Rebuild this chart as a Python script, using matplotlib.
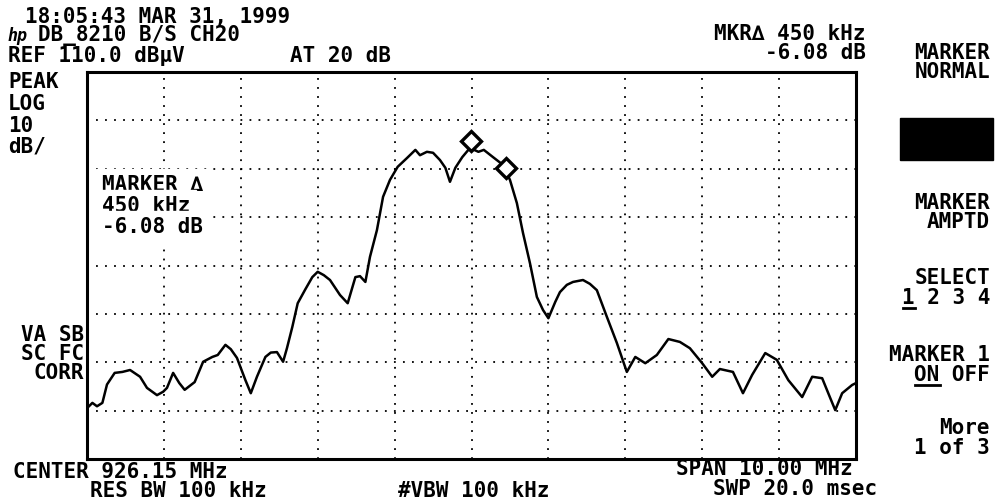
import matplotlib
matplotlib.use("Agg")
import matplotlib.pyplot as plt
from matplotlib.lines import Line2D
from matplotlib.patches import Rectangle

# analyzer settings
center_mhz = 926.15
span_mhz = 10.0
ref_level = 110.0
db_per_div = 10.0

# trace (MHz, dBuV)
freq = [921.15, 921.22, 921.28, 921.35, 921.41, 921.51, 921.61, 921.71, 921.84, 921.93,
        922.06, 922.14, 922.19, 922.27, 922.35, 922.42, 922.55, 922.66, 922.78, 922.85,
        922.95, 923.02, 923.10, 923.21, 923.28, 923.36, 923.47, 923.54, 923.62, 923.70,
        923.75, 923.82, 923.89, 923.99, 924.08, 924.15, 924.23, 924.31, 924.44, 924.54,
        924.64, 924.70, 924.77, 924.83, 924.92, 925.00, 925.09, 925.19, 925.31, 925.42,
        925.48, 925.57, 925.65, 925.74, 925.81, 925.87, 925.94, 926.03, 926.13, 926.24,
        926.31, 926.43, 926.56, 926.65, 926.74, 926.82, 926.91, 927.00, 927.08, 927.15,
        927.24, 927.30, 927.39, 927.47, 927.60, 927.69, 927.78, 927.91, 928.04, 928.17,
        928.28, 928.41, 928.56, 928.71, 928.86, 928.99, 929.15, 929.28, 929.38, 929.55,
        929.68, 929.80, 929.97, 930.12, 930.27, 930.45, 930.58, 930.71, 930.81, 930.88,
        930.97, 931.10, 931.15]
level = [40.5, 41.6, 40.9, 41.6, 45.4, 47.8, 48.0, 48.4, 47.0, 44.7,
         43.2, 43.9, 44.7, 47.8, 45.7, 44.3, 45.9, 50.1, 51.1, 51.5,
         53.6, 52.7, 50.9, 46.3, 43.6, 47.0, 51.1, 52.0, 52.1, 50.1,
         52.9, 57.3, 62.2, 65.1, 67.6, 68.7, 68.0, 67.0, 63.9, 62.2,
         67.6, 67.8, 66.6, 71.8, 77.3, 84.2, 87.7, 90.4, 92.2, 93.9,
         92.8, 93.5, 93.3, 91.8, 90.2, 87.3, 90.2, 92.4, 94.3, 93.5,
         93.9, 92.4, 90.8, 87.7, 82.9, 76.7, 70.5, 63.5, 60.8, 59.1,
         62.5, 64.5, 66.0, 66.6, 67.0, 66.2, 64.9, 59.4, 54.0, 48.0,
         51.1, 49.8, 51.5, 54.8, 54.2, 52.9, 49.8, 47.0, 48.6, 48.0,
         43.6, 47.4, 51.9, 50.5, 46.3, 42.8, 47.0, 46.7, 42.8, 40.1,
         43.6, 45.3, 45.7]

# marker and delta marker
marker_freq = [926.14, 926.60]
marker_level = [95.7, 90.2]

W, H = 998, 500
FONT = ['DejaVu Sans Mono', 'DejaVu Sans']
FS = 15

fig = plt.figure(figsize=(W / 100, H / 100), dpi=100)
fig.patch.set_facecolor('white')
ax = fig.add_axes([87 / W, 1 - 459 / H, (856 - 87) / W, (459 - 72) / H])

start = center_mhz - span_mhz / 2
stop = center_mhz + span_mhz / 2
bottom = ref_level - 8 * db_per_div
ax.set_xlim(start, stop)
ax.set_ylim(bottom, ref_level)
ax.set_xticks([start + i * span_mhz / 10 for i in range(11)])
ax.set_yticks([bottom + i * db_per_div for i in range(9)])
ax.tick_params(length=0, labelbottom=False, labelleft=False)
ax.grid(True, color='black', linestyle=(0, (1, 4)), linewidth=1.3)
for s in ax.spines.values():
    s.set_linewidth(2.2)
    s.set_color('black')

ax.plot(freq, level, color='black', linewidth=1.8)
ax.plot(marker_freq, marker_level, linestyle='none', marker='D', markersize=10,
        markerfacecolor='white', markeredgecolor='black', markeredgewidth=2.4)


def put(x, y, s, ha='left', **kw):
    fig.text(x / W, 1 - y / H, s, family=FONT, fontsize=FS, fontweight='bold',
             ha=ha, va='center', color='black', **kw)


# marker readout inside graticule
for txt, yy in [('MARKER \u2206', 185), ('450 kHz', 206), ('-6.08 dB', 227)]:
    put(102, yy, txt, backgroundcolor='white')

# header
put(25, 17, '18:05:43 MAR 31, 1999')
fig.text(8 / W, 1 - 36 / H, 'hp', family=FONT, fontsize=12, fontweight='bold',
         style='italic', ha='left', va='center')
put(38, 36, 'DB_8210 B/S CH20')
put(8, 56, 'REF 110.0 dB\u03bcV')
put(290, 56, 'AT 20 dB')
put(866, 34, 'MKR\u2206 450 kHz', ha='right')
put(866, 53, '-6.08 dB', ha='right')

# left annotations
put(8, 82, 'PEAK')
put(8, 104, 'LOG')
put(8, 126, '10')
put(8, 146, 'dB/')
put(84, 335, 'VA SB', ha='right')
put(84, 354, 'SC FC', ha='right')
put(84, 373, 'CORR', ha='right')

# bottom annotations
put(13, 472, 'CENTER 926.15 MHz')
put(90, 491, 'RES BW 100 kHz')
put(398, 491, '#VBW 100 kHz')
put(853, 469, 'SPAN 10.00 MHz', ha='right')
put(877, 489, 'SWP 20.0 msec', ha='right')

# softkey labels
put(990, 53, 'MARKER', ha='right')
put(990, 72, 'NORMAL', ha='right')
fig.patches.append(Rectangle((900 / W, 1 - 160 / H), 93 / W, 42 / H,
                             transform=fig.transFigure, color='black'))
put(990, 203, 'MARKER', ha='right')
put(990, 222, 'AMPTD', ha='right')
put(990, 278, 'SELECT', ha='right')
put(990, 298, '1 2 3 4', ha='right')
put(990, 355, 'MARKER 1', ha='right')
put(990, 375, 'ON OFF', ha='right')
put(990, 428, 'More', ha='right')
put(990, 448, '1 of 3', ha='right')

# underlines for the active softkey choices
fig.add_artist(Line2D([903 / W, 915 / W], [1 - 308 / H, 1 - 308 / H],
                      transform=fig.transFigure, color='black', linewidth=2))
fig.add_artist(Line2D([915 / W, 940 / W], [1 - 385 / H, 1 - 385 / H],
                      transform=fig.transFigure, color='black', linewidth=2))

fig.savefig('out.png', dpi=100)
